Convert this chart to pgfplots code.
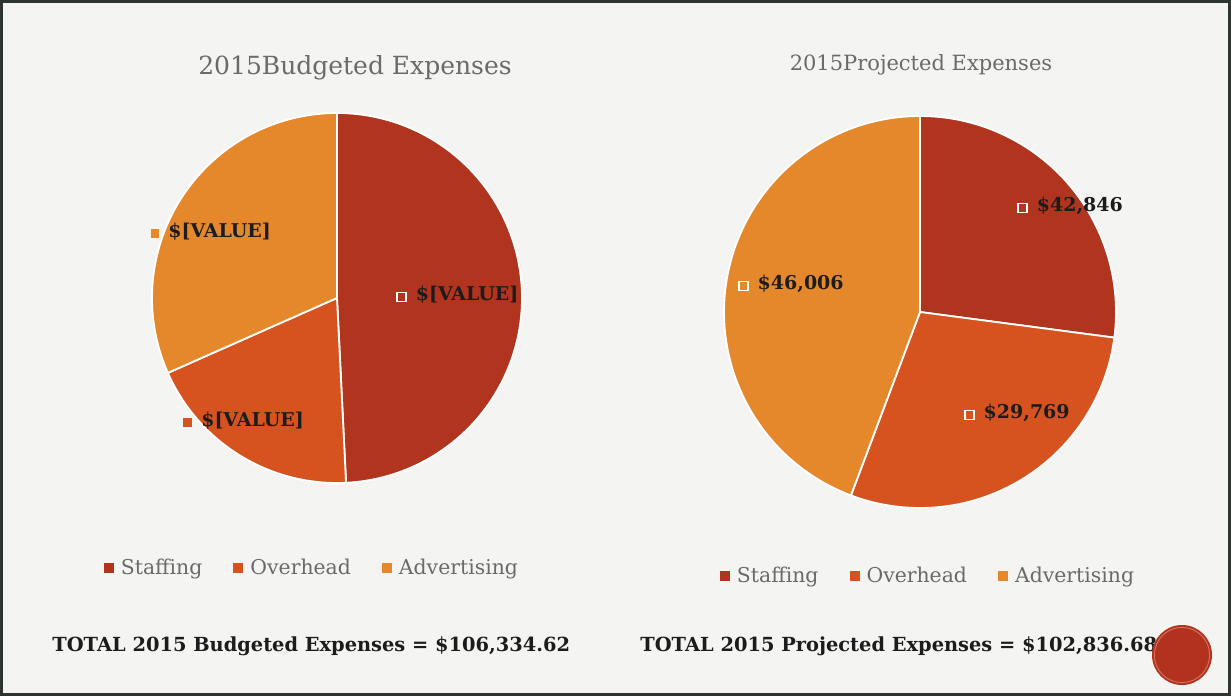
\documentclass[border=0pt]{standalone}
\usepackage{pgfplots}
\pgfplotsset{compat=1.18}
\usepackage{fontspec}
\setmainfont{DejaVu Serif}
\definecolor{cStaff}{HTML}{B0341E}
\definecolor{cOver}{HTML}{D6521F}
\definecolor{cAdv}{HTML}{E5882C}
\definecolor{bg}{HTML}{F4F4F2}
\definecolor{txtgray}{HTML}{6A6A6A}
\definecolor{framec}{HTML}{2E3430}
\definecolor{lbl}{HTML}{1C1C1C}
\definecolor{dot}{HTML}{B3321D}
\definecolor{dotring}{HTML}{CF7560}

\newcommand{\sqw}{\textcolor{white}{\setlength{\fboxsep}{0pt}\setlength{\fboxrule}{0.7pt}\fbox{\rule{0pt}{3.8pt}\hspace{3.8pt}}}}
\newcommand{\sqf}[1]{\textcolor{#1}{\rule{4.4pt}{4.4pt}}}

% values (US dollars)
\def\bStaff{52340}\def\bOver{20353}\def\bAdv{33642}
\def\pStaff{28150}\def\pOver{29769}\def\pAdv{46006}

\edef\bT{\fpeval{\bStaff+\bOver+\bAdv}}
\edef\bA{\fpeval{90-360*\bStaff/\bT}}
\edef\bB{\fpeval{\bA-360*\bOver/\bT}}
\edef\pT{\fpeval{\pStaff+\pOver+\pAdv}}
\edef\pA{\fpeval{90-360*\pStaff/\pT}}
\edef\pB{\fpeval{\pA-360*\pOver/\pT}}

\tikzset{lab/.style={anchor=west, inner sep=0pt, font=\fontsize{9.5}{11}\selectfont\bfseries, text=lbl}}
\pgfplotsset{pie/.style={hide axis, clip=false, xmin=-1,xmax=1,ymin=-1,ymax=1, anchor=origin,
  legend columns=3, legend cell align=left,
  legend style={draw=none, fill=none, font=\fontsize{10.2}{12}\selectfont\color{txtgray},
    /tikz/every odd column/.append style={column sep=1.5pt},
    /tikz/every even column/.append style={column sep=13.5pt}},
  legend image code/.code={\draw[##1,draw=none] (0pt,-2.5pt) rectangle (5pt,2.5pt);},
  every axis plot/.append style={draw=white, line width=0.9pt, samples=90}}}

\begin{document}
\begin{tikzpicture}
\useasboundingbox (0,0) rectangle (615.5pt,-348pt);
\fill[bg] (0,0) rectangle (615.5pt,-348pt);
\draw[framec, line width=1.3pt] (0.65pt,-0.65pt) rectangle (614.85pt,-347.35pt);

% left pie
\begin{axis}[pie, x=92.5pt, y=92.5pt, at={(168.5pt,-149pt)},
  legend style={at={(axis cs:-0.13,-1.46)}, anchor=center}]
\addplot[fill=cStaff, domain=\bA:90] ({cos(x)},{sin(x)}) -- (axis cs:0,0) -- cycle;
\addlegendentry{Staffing}
\addplot[fill=cOver, domain=\bB:\bA] ({cos(x)},{sin(x)}) -- (axis cs:0,0) -- cycle;
\addlegendentry{Overhead}
\addplot[fill=cAdv, domain=-270:\bB] ({cos(x)},{sin(x)}) -- (axis cs:0,0) -- cycle;
\addlegendentry{Advertising}
\node[lab] at (axis cs:-1.01,0.357) {\sqf{cAdv}\hspace{4.5pt}\$[VALUE]};
\node[lab] at (axis cs:-0.832,-0.665) {\sqf{cOver}\hspace{4.5pt}\$[VALUE]};
\node[lab] at (axis cs:0.319,0.016) {\sqw\hspace{4.5pt}\$[VALUE]};
\end{axis}

% right pie
\begin{axis}[pie, x=98pt, y=98pt, at={(460pt,-156pt)},
  legend style={at={(axis cs:0.046,-1.347)}, anchor=center}]
\addplot[fill=cStaff, domain=\pA:90] ({cos(x)},{sin(x)}) -- (axis cs:0,0) -- cycle;
\addlegendentry{Staffing}
\addplot[fill=cOver, domain=\pB:\pA] ({cos(x)},{sin(x)}) -- (axis cs:0,0) -- cycle;
\addlegendentry{Overhead}
\addplot[fill=cAdv, domain=-270:\pB] ({cos(x)},{sin(x)}) -- (axis cs:0,0) -- cycle;
\addlegendentry{Advertising}
\node[lab] at (axis cs:0.495,0.541) {\sqw\hspace{4.5pt}\$42,846};
\node[lab] at (axis cs:-0.929,0.143) {\sqw\hspace{4.5pt}\$46,006};
\node[lab] at (axis cs:0.224,-0.515) {\sqw\hspace{4.5pt}\$29,769};
\end{axis}

\node[text=txtgray, font=\fontsize{12.5}{14}\selectfont] at (177.5pt,-34pt) {2015Budgeted Expenses};
\node[text=txtgray, font=\fontsize{10.5}{12}\selectfont] at (460.5pt,-32.5pt) {2015Projected Expenses};
\node[anchor=west, inner sep=0pt, text=lbl, font=\fontsize{9.7}{12}\selectfont\bfseries] at (26pt,-323pt) {TOTAL 2015 Budgeted Expenses = \$106,334.62};
\node[anchor=west, inner sep=0pt, text=lbl, font=\fontsize{9.7}{12}\selectfont\bfseries] at (320pt,-323pt) {TOTAL 2015 Projected Expenses = \$102,836.68};
\fill[dot] (591pt,-327.5pt) circle (15pt);
\draw[dotring, line width=0.45pt] (591pt,-327.5pt) circle (13.8pt);
\end{tikzpicture}
\end{document}
